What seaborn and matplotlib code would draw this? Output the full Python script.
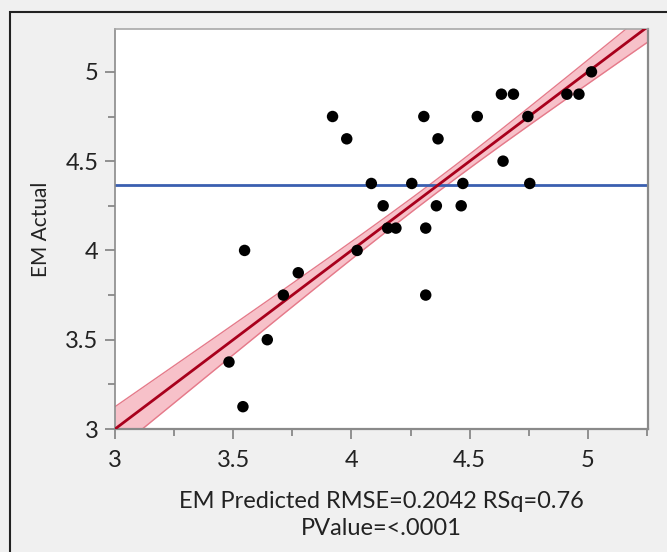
import numpy as np
import pandas as pd
import matplotlib
matplotlib.use("Agg")
import matplotlib.pyplot as plt
from matplotlib.patches import Rectangle
from matplotlib.ticker import FixedLocator, FixedFormatter
import seaborn as sns

# ---- data ----
em_predicted = [3.920, 3.980, 4.306, 4.366, 4.532, 4.634, 4.685, 4.746, 4.911, 4.962,
                5.015, 4.641, 4.084, 4.255, 4.471, 4.754, 4.134, 4.359, 4.464, 4.153,
                4.188, 4.314, 4.024, 3.548, 3.775, 3.712, 4.314, 3.644, 3.482, 3.541]
em_actual = [4.75, 4.625, 4.75, 4.625, 4.75, 4.875, 4.875, 4.75, 4.875, 4.875,
             5.0, 4.5, 4.375, 4.375, 4.375, 4.375, 4.25, 4.25, 4.25, 4.125,
             4.125, 4.125, 4.0, 4.0, 3.875, 3.75, 3.75, 3.5, 3.375, 3.125]
mean_actual = 4.365
rmse = 0.2042
tick_values = [3, 3.5, 4, 4.5, 5]
tick_labels = ["3", "3.5", "4", "4.5", "5"]
minor_values = [3.25, 3.75, 4.25, 4.75, 5.25]
xlabel_text = "EM Predicted RMSE=0.2042 RSq=0.76\nPValue=<.0001"
ylabel_text = "EM Actual"

df = pd.DataFrame({"pred": em_predicted, "actual": em_actual})

sns.set_theme(style="white")
plt.rcParams["font.family"] = ["Lato", "DejaVu Sans"]

fig = plt.figure(figsize=(6.67, 5.52), dpi=100)
fig.patch.set_facecolor("#f0f0f0")
ax = fig.add_axes([115 / 667, 1 - 429 / 552, (648 - 115) / 667, (429 - 29) / 552])
ax.set_facecolor("white")

xlim = (3.0, 5.254)
ylim = (3.0, 5.24)

# fit line (actual = predicted) with confidence band
xs = np.linspace(xlim[0], xlim[1], 200)
n = len(em_predicted)
xarr = np.array(em_predicted)
sxx = np.sum((xarr - xarr.mean()) ** 2)
half = rmse * np.sqrt(1.0 / n + (xs - mean_actual) ** 2 / sxx)
ax.fill_between(xs, xs - half, xs + half, color="#f6b2bc", alpha=0.8, lw=0, zorder=1)
ax.plot(xs, xs - half, color="#e57a8a", lw=1.0, zorder=2)
ax.plot(xs, xs + half, color="#e57a8a", lw=1.0, zorder=2)
fit = pd.DataFrame({"x": xs, "y": xs})
sns.lineplot(data=fit, x="x", y="y", ax=ax, color="#a8001c", lw=2.0, zorder=3)

# mean line
ax.axhline(mean_actual, color="#3a5fb0", lw=2.0, zorder=2)

# points
sns.scatterplot(data=df, x="pred", y="actual", ax=ax, color="black", s=68,
                edgecolor="none", zorder=4)

ax.set_xlim(*xlim)
ax.set_ylim(*ylim)
for axis in (ax.xaxis, ax.yaxis):
    axis.set_major_locator(FixedLocator(tick_values))
    axis.set_major_formatter(FixedFormatter(tick_labels))
    axis.set_minor_locator(FixedLocator(minor_values))
ax.tick_params(which="major", direction="out", length=7, width=1.2, color="#808080",
               labelsize=17, labelcolor="#222222")
ax.tick_params(axis="x", which="major", pad=8)
ax.tick_params(axis="y", which="major", pad=5)
ax.tick_params(which="minor", direction="out", length=5, width=1.2, color="#808080")
ax.tick_params(axis="x", which="both", bottom=True)
ax.tick_params(axis="y", which="both", left=True)
for name, sp in ax.spines.items():
    sp.set_color("#8a8a8a")
    sp.set_linewidth(1.6 if name in ("bottom", "right") else 1.2)
ax.spines["top"].set_color("#a8a8a8")

ax.set_xlabel(xlabel_text, fontsize=17, color="#222222", linespacing=1.35)
ax.set_ylabel(ylabel_text, fontsize=15, color="#222222")
ax.xaxis.set_label_coords(0.5, -0.155)
ax.yaxis.set_label_coords(-0.12, 0.5)

# outer frame
fig.patches.append(Rectangle((10 / 667, -0.1), 1.2, 1 - 12 / 552 + 0.1,
                             transform=fig.transFigure, fill=False,
                             edgecolor="#222222", lw=1.5))

fig.savefig("out.png", dpi=100, facecolor=fig.get_facecolor())
